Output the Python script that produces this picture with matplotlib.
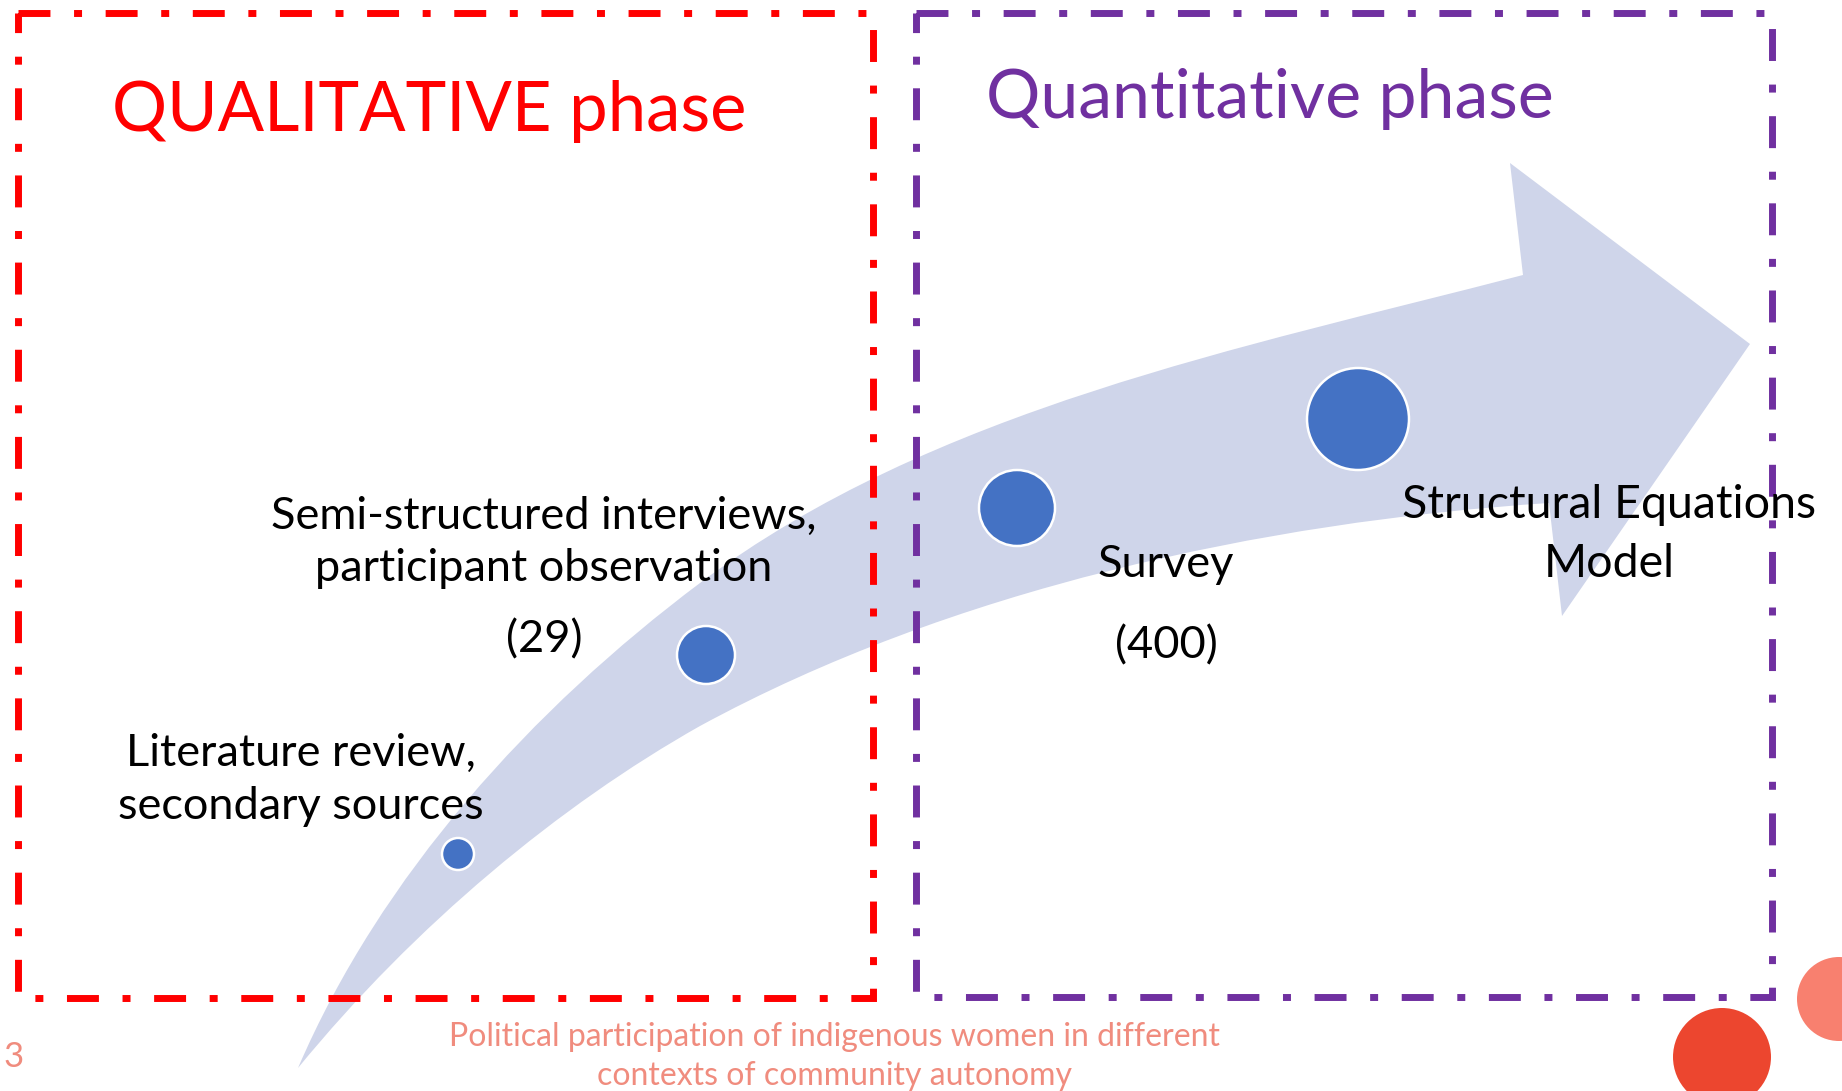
import matplotlib.pyplot as plt
from matplotlib.patches import Rectangle, Circle, PathPatch
from matplotlib.path import Path

# diagram content
phase_titles = ['QUALITATIVE phase', 'Quantitative phase']
step_labels = [
    ['Literature review,', 'secondary sources'],
    ['Semi-structured interviews,', 'participant observation', '(29)'],
    ['Survey', '(400)'],
    ['Structural Equations', 'Model'],
]
footer = ['Political participation of indigenous women in different',
          'contexts of community autonomy']
page_no = '3'

W, H = 1842, 1091
fig = plt.figure(figsize=(W / 100, H / 100), dpi=100)
ax = fig.add_axes([0, 0, 1, 1])
ax.set_xlim(0, W)
ax.set_ylim(H, 0)
ax.axis('off')

# curved arrow (pixel layout of the slide)
arrow_col = '#CFD5EA'
verts = [
    (298, 1068),
    (381, 875), (532, 709), (700, 583),      # upper edge, part 1
    (932, 409), (1242, 348), (1523, 275),    # upper edge, part 2
    (1510, 163), (1750, 344), (1562, 616), (1549, 503),  # head
    (1260, 522), (950, 590), (700, 726),     # lower edge, part 2
    (560, 805), (415, 925), (298, 1068),     # lower edge, part 1
    (298, 1068),
]
codes = ([Path.MOVETO] + [Path.CURVE4] * 6 + [Path.LINETO] * 4
         + [Path.CURVE4] * 6 + [Path.CLOSEPOLY])
ax.add_patch(PathPatch(Path(verts, codes), facecolor=arrow_col, edgecolor='none', zorder=1))

# dashed phase boxes
dash = (0, (4.6, 3.4, 1.15, 3.4))
ax.add_patch(Rectangle((18, 13), 873 - 18, 998 - 13, fill=False, edgecolor='#FF0000',
                       lw=5.0, linestyle=dash, zorder=3))
ax.add_patch(Rectangle((916, 13), 1772 - 916, 997 - 13, fill=False, edgecolor='#7030A0',
                       lw=5.0, linestyle=dash, zorder=3))

# milestone dots
dot_xy = [(458, 854), (706, 655), (1017, 508), (1358, 419)]
dot_r = [16, 29, 38, 51]
for (x, y), r in zip(dot_xy, dot_r):
    ax.add_patch(Circle((x, y), r, facecolor='#4472C4', edgecolor='white', lw=1.8, zorder=4))

# phase titles
ax.text(112, 131, phase_titles[0], color='#FF0000', fontsize=49.5, family='Lato',
        ha='left', va='baseline', zorder=5)
ax.text(986, 118, phase_titles[1], color='#7030A0', fontsize=49, family='Lato',
        ha='left', va='baseline', zorder=5)

# step labels
label_pos = [
    (301, [766, 819]),
    (544, [529, 581, 652]),
    (1166, [577, 658]),
    (1609, [518, 577]),
]
label_size = [32.5, 32.5, 32.5, 33.5]
for lines, (cx, ys), fs in zip(step_labels, label_pos, label_size):
    for s, y in zip(lines, ys):
        ax.text(cx, y, s, color='black', fontsize=fs, family='Lato',
                ha='center', va='baseline', zorder=5)

# footer
salmon = '#F08C7E'
ax.text(834, 1046, footer[0], color=salmon, fontsize=23, family='Lato',
        ha='center', va='baseline')
ax.text(834, 1085, footer[1], color=salmon, fontsize=23, family='Lato',
        ha='center', va='baseline')
ax.text(3, 1067, page_no, color=salmon, fontsize=25, family='Lato',
        ha='left', va='baseline')

# corner decorations
ax.add_patch(Circle((1722, 1057), 49, facecolor='#EC462F', edgecolor='none', zorder=2))
ax.add_patch(Circle((1839, 999), 42, facecolor='#F8806F', edgecolor='none', zorder=2))

fig.savefig('out.png', dpi=100)
